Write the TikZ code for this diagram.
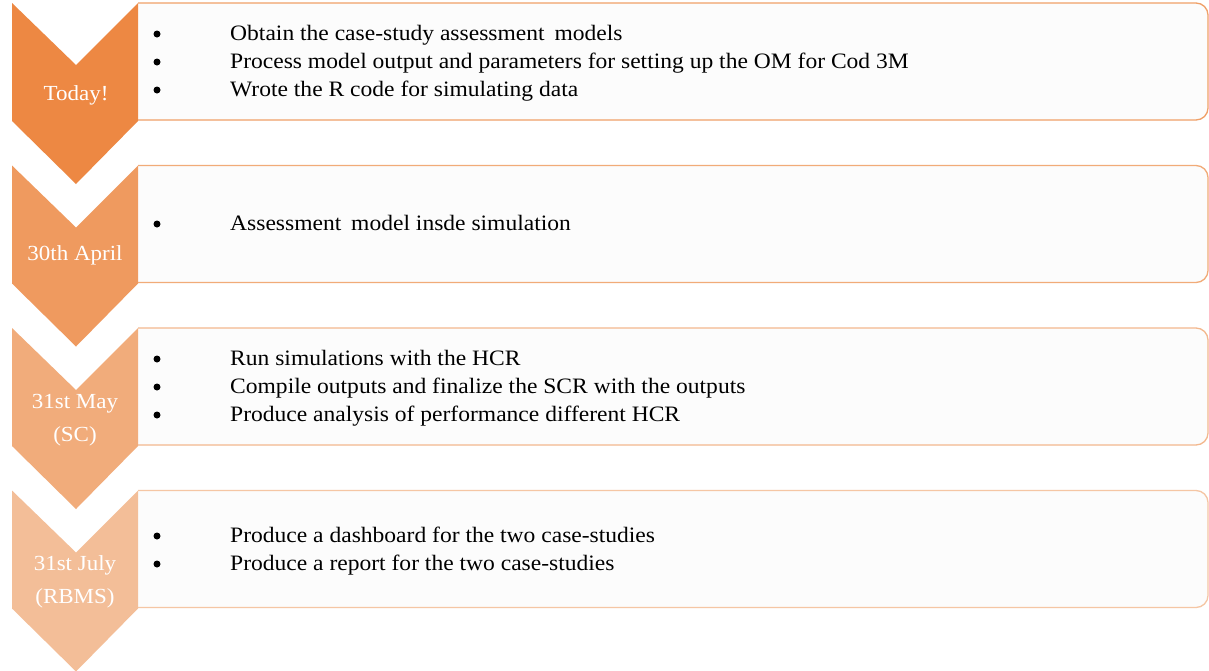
\documentclass[tikz,border=0pt]{standalone}
\usepackage{fontspec}
\setmainfont{Liberation Serif}[FakeStretch=1.07]
\definecolor{c1}{HTML}{ED8843}
\definecolor{c2}{HTML}{EF9A5F}
\definecolor{c3}{HTML}{F1AC7B}
\definecolor{c4}{HTML}{F3BE98}
\definecolor{b1}{HTML}{F0A068}
\definecolor{b2}{HTML}{F1AB78}
\definecolor{b3}{HTML}{F3B88E}
\definecolor{b4}{HTML}{F5C6A4}
\definecolor{boxfill}{HTML}{FCFCFC}
\tikzset{
  lbl/.style={text=white,font=\fontsize{21.5}{33}\selectfont,align=center,inner sep=0pt},
  itm/.style={anchor=base west,font=\fontsize{22}{24}\selectfont,inner sep=0pt},
  bul/.style={circle,fill=black,inner sep=0pt,minimum size=7pt}
}
\newcommand{\chev}[2]{%
  \fill[#2] (12,#1) -- (76,#1+62) -- (138,#1) -- (138,#1+118) -- (76,#1+181) -- (12,#1+118) -- cycle;}
\newcommand{\tbox}[2]{%
  \begin{scope}
    \clip (138,#1-3) rectangle (1209,#1+121);
    \draw[#2,fill=boxfill,line width=1.3pt,rounded corners=12pt] (110,#1) rectangle (1208,#1+117);
  \end{scope}}
\begin{document}
\begin{tikzpicture}[x=1pt,y=-1pt]
\useasboundingbox (0,0) rectangle (1209,670);
\fill[white] (0,0) rectangle (1209,670);
% boxes
\tbox{3}{b1}
\tbox{165.5}{b2}
\tbox{328}{b3}
\tbox{490.5}{b4}
% chevrons
\chev{3}{c1}
\chev{165.5}{c2}
\chev{328}{c3}
\chev{490.5}{c4}
% labels
\node[lbl] (l1) at (76,95) {Today!};
\node[lbl] (l2) at (75,255) {30th April};
\node[lbl] (l3) at (75,420) {31st May\\(SC)};
\node[lbl] (l4) at (75,582) {31st July\\(RBMS)};
% items
\foreach \y/\t [count=\i] in {33/{Obtain the case-study assessment\hspace{4pt} models},
  61/{Process model output and parameters for setting up the OM for Cod 3M},
  89/{Wrote the R code for simulating data},
  223/{Assessment\hspace{4pt} model insde simulation},
  358/{Run simulations with the HCR},
  386/{Compile outputs and finalize the SCR with the outputs},
  414/{Produce analysis of performance different HCR},
  535/{Produce a dashboard for the two case-studies},
  563/{Produce a report for the two case-studies}}{
  \node[bul] (b\i) at (157,\y+1) {};
  \node[itm] (t\i) at (230,\y+7) {\t};
}
\end{tikzpicture}
\end{document}
